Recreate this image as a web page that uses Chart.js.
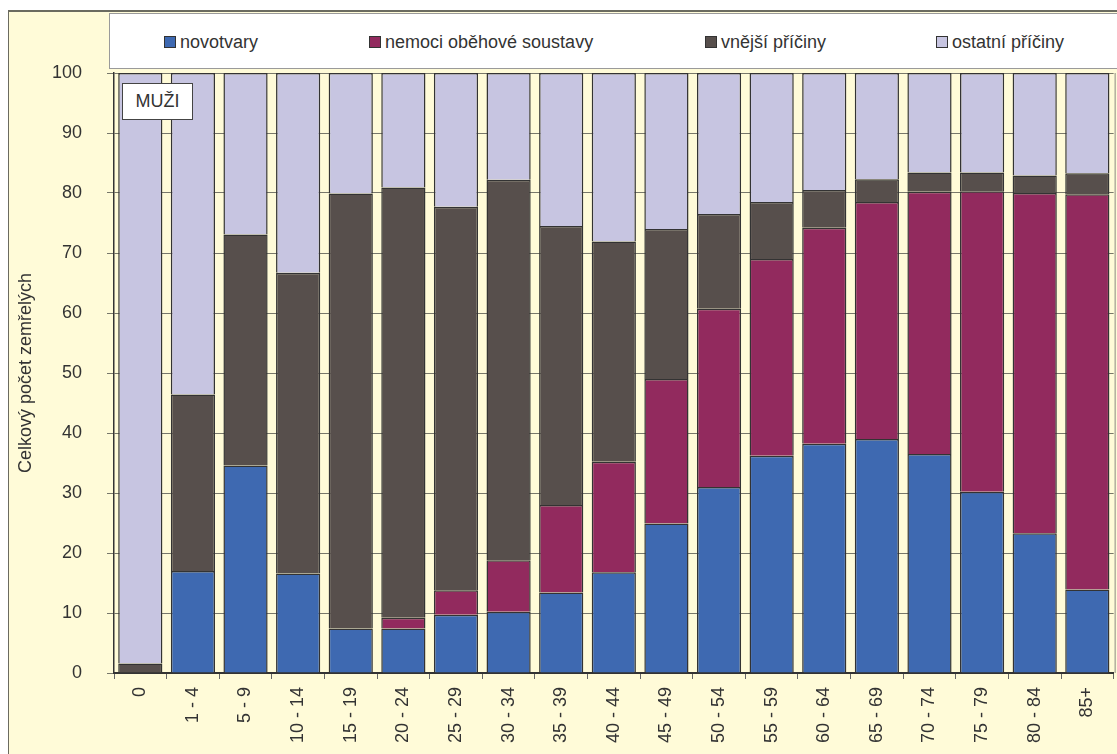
<!DOCTYPE html>
<html lang="cs">

<head>
  <meta charset="UTF-8">
  <title>Zemřelí podle skupin příčin smrti – muži</title>
  <script src="https://cdn.jsdelivr.net/npm/chart.js"></script>
  <style>
    * {
      margin: 0;
      padding: 0;
      box-sizing: border-box;
    }

    body {
      width: 1117px;
      height: 754px;
      overflow: hidden;
      position: relative;
      background: #fff;
      font-family: 'Liberation Sans', Arial, sans-serif;
      color: #333;
    }

    /* cream panel behind the whole chart */
    .frame {
      position: absolute;
      left: 8px;
      top: 10px;
      width: 1125px;
      height: 760px;
      background: #fffbd8;
      border-left: 1px solid #6b6b60;
      border-top: 2px solid #6b6b60;
    }

    #chart {
      position: absolute;
      left: 0;
      top: 0;
    }

    .legend {
      position: absolute;
      left: 109px;
      top: 13px;
      width: 1030px;
      height: 56px;
      background: #fff;
      border: 1px solid #9a9a9a;
    }

    .legend-item {
      position: absolute;
      top: 18px;
      font-size: 18px;
      line-height: 20px;
      display: flex;
      align-items: center;
      white-space: nowrap;
    }

    .legend-item i {
      display: inline-block;
      width: 12px;
      height: 12px;
      border: 1px solid #333;
      margin-right: 4px;
    }

    .tag {
      position: absolute;
      left: 122px;
      top: 83px;
      width: 71px;
      height: 37px;
      background: #fff;
      border: 1px solid #444;
      font-size: 18px;
      display: flex;
      align-items: center;
      justify-content: center;
    }
  </style>
</head>

<body>
  <div class="frame"></div>
  <canvas id="chart" width="1117" height="754"></canvas>
  <div class="legend" id="legend"></div>
  <div class="tag">MUŽI</div>

  <script>
    // věkové skupiny
    const ageGroups = ['0', '1 - 4', '5 - 9', '10 - 14', '15 - 19', '20 - 24', '25 - 29', '30 - 34',
      '35 - 39', '40 - 44', '45 - 49', '50 - 54', '55 - 59', '60 - 64', '65 - 69', '70 - 74',
      '75 - 79', '80 - 84', '85+'];

    // podíly příčin smrti v % (každý sloupec dává 100)
    const novotvary = [0, 17.0, 34.6, 16.6, 7.4, 7.4, 9.7, 10.2, 13.4, 16.8, 24.9, 31.0, 36.2, 38.2, 39.0, 36.5, 30.2, 23.3, 13.9];
    const nemociObehove = [0, 0, 0, 0, 0, 1.8, 4.1, 8.6, 14.6, 18.4, 24.1, 29.7, 32.8, 36.0, 39.5, 43.7, 50.1, 56.7, 65.9];
    const vnejsiPriciny = [1.6, 29.4, 38.5, 50.1, 72.5, 71.7, 63.9, 63.4, 46.5, 36.7, 25.0, 15.8, 9.5, 6.3, 3.8, 3.2, 3.1, 2.9, 3.5];
    const ostatniPriciny = [98.4, 53.6, 26.9, 33.3, 20.1, 19.1, 22.3, 17.8, 25.5, 28.1, 26.0, 23.5, 21.5, 19.5, 17.7, 16.6, 16.6, 17.1, 16.7];

    const seriesNames = ['novotvary', 'nemoci oběhové soustavy', 'vnější příčiny', 'ostatní příčiny'];
    const seriesColors = ['#3e69b1', '#922a5e', '#574f4c', '#c7c5e1'];
    const seriesData = [novotvary, nemociObehove, vnejsiPriciny, ostatniPriciny];
    const legendX = [54, 259, 595, 826];

    const font = { family: "'Liberation Sans', Arial, sans-serif", size: 18 };

    // legenda (rozestupy jako v původním grafu)
    const legendBox = document.getElementById('legend');
    seriesNames.forEach((name, i) => {
      const item = document.createElement('div');
      item.className = 'legend-item';
      item.style.left = legendX[i] + 'px';
      item.innerHTML = `<i style="background:${seriesColors[i]}"></i>${name}`;
      legendBox.appendChild(item);
    });

    // svislá čára na pravém okraji grafu
    const rightEdge = {
      id: 'rightEdge',
      afterDraw(chart) {
        const { ctx, chartArea } = chart;
        ctx.save();
        ctx.strokeStyle = '#8a8a80';
        ctx.lineWidth = 1;
        ctx.beginPath();
        ctx.moveTo(chartArea.right + 1.5, chartArea.top);
        ctx.lineTo(chartArea.right + 1.5, chartArea.bottom);
        ctx.stroke();
        ctx.restore();
      }
    };

    new Chart(document.getElementById('chart'), {
      type: 'bar',
      data: {
        labels: ageGroups,
        datasets: seriesNames.map((name, i) => ({
          label: name,
          data: seriesData[i],
          backgroundColor: seriesColors[i],
          borderColor: '#333',
          borderWidth: 1.5,
          categoryPercentage: 1,
          barPercentage: 0.84,
        })),
      },
      options: {
        responsive: false,
        animation: false,
        layout: { padding: { top: 73, right: 3 } },
        plugins: {
          legend: { display: false },
          tooltip: { enabled: false },
        },
        scales: {
          x: {
            stacked: true,
            grid: { offset: true, drawOnChartArea: false, color: '#666', tickLength: 6 },
            border: { color: '#333', width: 2 },
            ticks: {
              minRotation: 90,
              maxRotation: 90,
              autoSkip: false,
              color: '#333',
              font: font,
              padding: 8,
            },
            afterFit(scale) { scale.height = 81; },
          },
          y: {
            stacked: true,
            min: 0,
            max: 100,
            ticks: { stepSize: 10, color: '#333', font: font, padding: 25 },
            grid: { color: '#77776a', tickLength: 7 },
            border: { color: '#333', width: 1.5 },
            title: {
              display: true,
              text: 'Celkový počet zemřelých',
              color: '#333',
              font: font,
              padding: { top: 15, bottom: 0 },
            },
            afterFit(scale) { scale.width = 114; },
          },
        },
      },
      plugins: [rightEdge],
    });
  </script>
</body>

</html>
